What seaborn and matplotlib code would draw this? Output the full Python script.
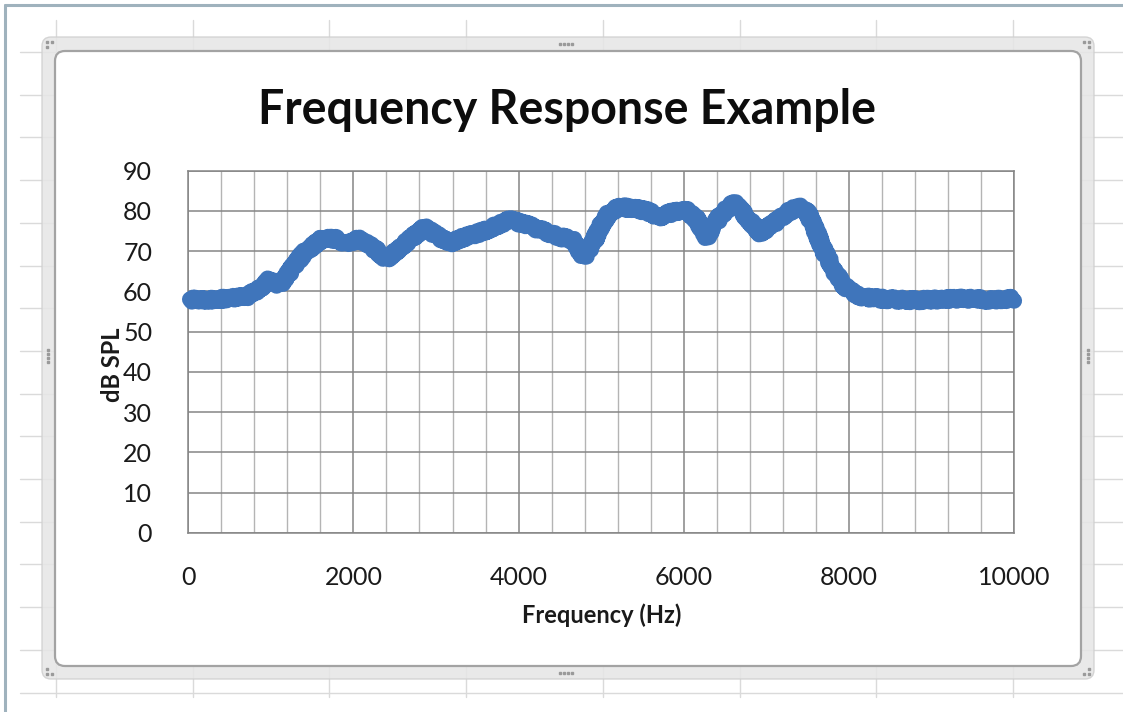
import numpy as np
import pandas as pd
import matplotlib
matplotlib.use("Agg")
import matplotlib.pyplot as plt
from matplotlib.patches import FancyBboxPatch
import seaborn as sns

# Measured response: frequency (Hz) and level (dB SPL)
freq_hz = [20, 150, 300, 450, 600, 720, 850, 990, 1110, 1250, 1400, 1630,
           1800, 1900, 2080, 2200, 2400, 2600, 2860, 3000, 3160, 3350, 3520,
           3700, 3890, 4100, 4300, 4490, 4650, 4790, 4900, 5000, 5100, 5220,
           5400, 5550, 5700, 5850, 6020, 6150, 6280, 6450, 6610, 6780, 6930,
           7100, 7250, 7390, 7500, 7600, 7700, 7800, 7900, 7990, 8100, 8200,
           8500, 8800, 9100, 9400, 9700, 10000]
level_db = [58.0, 57.8, 58.0, 58.2, 58.5, 58.8, 60.5, 63.0, 61.5, 65.5, 69.5,
            73.2, 73.0, 72.0, 73.0, 71.5, 68.0, 71.5, 75.8, 74.0, 72.0, 73.5,
            74.5, 76.0, 77.7, 76.5, 75.0, 73.5, 73.0, 68.5, 72.0, 76.5, 79.5,
            81.0, 80.5, 80.0, 78.5, 79.5, 80.5, 78.0, 73.5, 79.0, 82.0, 78.0,
            74.5, 77.0, 79.5, 81.0, 79.5, 75.0, 70.0, 66.0, 62.5, 60.5, 59.0,
            58.5, 58.0, 57.8, 58.0, 58.2, 57.9, 58.2]

x_ticks = [0, 2000, 4000, 6000, 8000, 10000]
y_ticks = [0, 10, 20, 30, 40, 50, 60, 70, 80, 90]

title_text = "Frequency Response Example"
x_label = "Frequency (Hz)"
y_label = "dB SPL"

W, H = 1123, 712
sns.set_theme(style="white")
plt.rcParams["font.family"] = ["Lato", "DejaVu Sans"]

fig = plt.figure(figsize=(W / 100, H / 100), dpi=100)
fig.patch.set_facecolor("white")

# Pixel-space background layer: worksheet grid and chart frame
bg = fig.add_axes([0, 0, 1, 1], zorder=0)
bg.set_xlim(0, W)
bg.set_ylim(H, 0)
bg.axis("off")

sheet_line = "#dadada"
col_x = [56 + 136.7 * i for i in range(8)]
row_y = [52 + 42.7 * i for i in range(16)]
for cx in col_x:
    bg.plot([cx, cx], [20, 697], color=sheet_line, lw=1.0)
for ry in row_y:
    bg.plot([20, W], [ry, ry], color=sheet_line, lw=1.0)

# window edge
bg.plot([5, 5], [5, H], color="#9fb2bd", lw=2.2)
bg.plot([5, W], [5, 5], color="#9fb2bd", lw=2.2)

outer = FancyBboxPatch((42, 37), 1094 - 42, 679 - 37,
                       boxstyle="round,pad=0,rounding_size=9",
                       facecolor="#e6e6e6", edgecolor="#cfcfcf", lw=1.0,
                       alpha=0.85, zorder=2)
bg.add_patch(outer)
inner = FancyBboxPatch((55, 51), 1081 - 55, 666 - 51,
                       boxstyle="round,pad=0,rounding_size=10",
                       facecolor="white", edgecolor="#a3a3a3", lw=1.6,
                       zorder=3)
bg.add_patch(inner)

# sizing handles
handle_kw = dict(color="#9a9a9a", marker="s", ms=1.6, ls="none", zorder=4)
bg.plot([560, 564, 568, 572], [44, 44, 44, 44], **handle_kw)
bg.plot([560, 564, 568, 572], [673, 673, 673, 673], **handle_kw)
bg.plot([48, 48, 48, 48], [350, 354, 358, 362], **handle_kw)
bg.plot([1088, 1088, 1088, 1088], [350, 354, 358, 362], **handle_kw)
for hx, hy in [(47, 42), (52, 42), (47, 47), (1084, 42), (1089, 42), (1089, 47),
               (47, 674), (47, 669), (52, 674), (1089, 674), (1084, 674), (1089, 669)]:
    bg.plot([hx], [hy], **handle_kw)

# Plot area
left, right, top, bottom = 188.3, 1014.0, 170.5, 533.0
ax = fig.add_axes([left / W, 1 - bottom / H, (right - left) / W, (bottom - top) / H],
                  zorder=5)
ax.set_facecolor("white")

df = pd.DataFrame({"freq": freq_hz, "level": level_db})

ax.set_xlim(0, 10000)
ax.set_ylim(0, 90)
ax.set_xticks(x_ticks)
ax.set_yticks(y_ticks)
ax.set_xticks(np.arange(0, 10001, 400), minor=True)

ax.grid(True, which="major", axis="both", color="#858585", lw=1.1)
ax.grid(True, which="minor", axis="x", color="#b4b4b4", lw=1.0)
ax.set_axisbelow(True)
for side in ["left", "bottom", "top", "right"]:
    ax.spines[side].set_visible(True)
    ax.spines[side].set_color("#858585")
    ax.spines[side].set_linewidth(1.1)

sns.lineplot(data=df, x="freq", y="level", ax=ax, color="#3f75bb",
             linewidth=11.5, solid_joinstyle="round", solid_capstyle="round",
             clip_on=False, zorder=6)
for ln in ax.lines:
    ln.set_sketch_params(scale=2.2, length=2.0, randomness=6)

ax.tick_params(axis="both", which="both", length=0, labelsize=18,
               labelcolor="#1a1a1a")
ax.tick_params(axis="y", pad=26)
ax.tick_params(axis="x", pad=24)
ax.set_xlabel("")
ax.set_ylabel("")

fig.text(602 / W, 1 - 615 / H, x_label, ha="center", va="center",
         fontsize=17, fontweight="bold", color="#1a1a1a")
fig.text(113 / W, 1 - 365 / H, y_label, ha="center", va="center",
         rotation=90, fontsize=17, fontweight="bold", color="#1a1a1a")
fig.text(567 / W, 1 - 110 / H, title_text, ha="center", va="center",
         fontsize=33.5, fontweight="bold", color="#0d0d0d")

fig.savefig("out.png", dpi=100, facecolor="white")
